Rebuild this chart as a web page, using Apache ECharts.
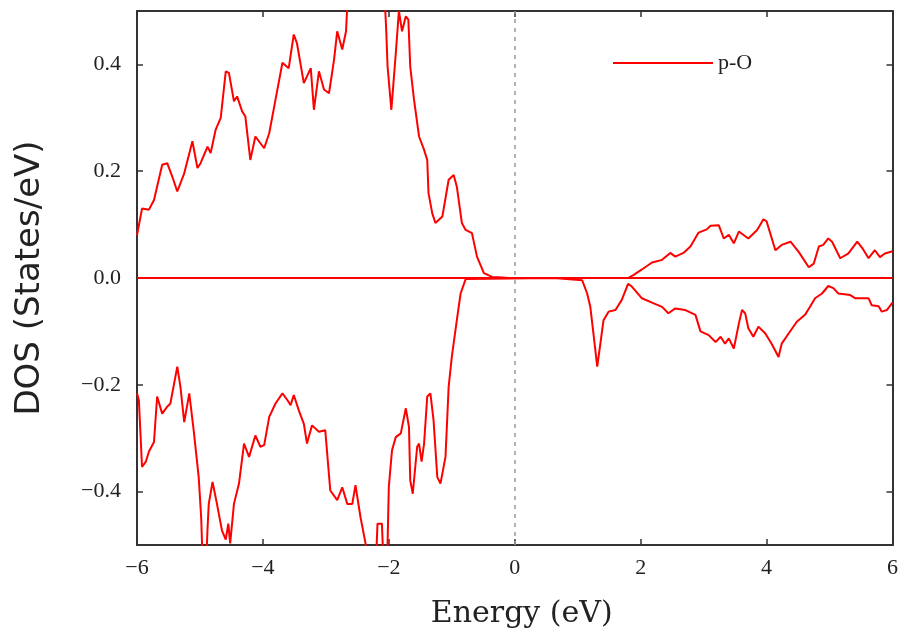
<!DOCTYPE html>
<html>
<head>
<meta charset="utf-8">
<script src="https://cdn.jsdelivr.net/npm/echarts@6/dist/echarts.min.js"></script>
<style>
  html, body { margin: 0; padding: 0; background: #fff; }
  #chart { width: 901px; height: 636px; }
</style>
</head>
<body>
<div id="chart"></div>
<script>
// Projected density of states, O p-orbitals, spin up (positive) and spin down (negative)
const upEnergy = [-6.0, -5.92, -5.81, -5.73, -5.6, -5.52, -5.44, -5.36, -5.25, -5.12, -5.04, -4.99, -4.88, -4.83, -4.75, -4.67, -4.59, -4.54, -4.46, -4.41, -4.33, -4.28, -4.2, -4.12, -3.98, -3.9, -3.8, -3.69, -3.59, -3.51, -3.46, -3.35, -3.24, -3.19, -3.11, -3.03, -2.95, -2.87, -2.82, -2.74, -2.68, -2.64, -2.5, -2.35, -2.2, -2.08, -2.04, -2.02, -1.96, -1.89, -1.84, -1.79, -1.73, -1.69, -1.66, -1.6, -1.52, -1.44, -1.39, -1.37, -1.31, -1.26, -1.15, -1.05, -0.97, -0.92, -0.84, -0.78, -0.68, -0.6, -0.49, -0.36, -0.2, -0.1, 1.8, 1.89, 2.02, 2.18, 2.34, 2.47, 2.55, 2.68, 2.79, 2.92, 3.05, 3.11, 3.24, 3.32, 3.4, 3.48, 3.56, 3.71, 3.85, 3.95, 4.0, 4.14, 4.24, 4.38, 4.51, 4.67, 4.75, 4.83, 4.9, 4.98, 5.04, 5.17, 5.3, 5.44, 5.52, 5.62, 5.72, 5.8, 5.88, 6.0];
const upDos = [0.08, 0.13, 0.128, 0.146, 0.212, 0.215, 0.19, 0.162, 0.196, 0.256, 0.206, 0.215, 0.246, 0.234, 0.278, 0.30, 0.387, 0.384, 0.331, 0.34, 0.312, 0.303, 0.221, 0.265, 0.243, 0.271, 0.334, 0.403, 0.393, 0.456, 0.44, 0.365, 0.393, 0.315, 0.387, 0.353, 0.346, 0.409, 0.462, 0.428, 0.462, 0.56, 0.68, 0.74, 0.66, 0.56, 0.46, 0.396, 0.315, 0.42, 0.5, 0.462, 0.49, 0.484, 0.396, 0.334, 0.265, 0.24, 0.221, 0.159, 0.121, 0.103, 0.115, 0.184, 0.193, 0.171, 0.103, 0.09, 0.084, 0.04, 0.009, 0.002, 0.001, 0, 0, 0.006, 0.016, 0.029, 0.034, 0.047, 0.04, 0.047, 0.059, 0.085, 0.091, 0.098, 0.099, 0.074, 0.081, 0.065, 0.087, 0.074, 0.09, 0.11, 0.106, 0.052, 0.062, 0.068, 0.049, 0.02, 0.027, 0.059, 0.062, 0.074, 0.068, 0.037, 0.046, 0.068, 0.056, 0.037, 0.052, 0.039, 0.046, 0.05];

const downEnergy = [-6.0, -5.97, -5.92, -5.86, -5.81, -5.73, -5.68, -5.6, -5.52, -5.47, -5.36, -5.31, -5.25, -5.17, -5.1, -5.02, -4.98, -4.95, -4.91, -4.88, -4.86, -4.8, -4.73, -4.65, -4.59, -4.55, -4.52, -4.46, -4.38, -4.3, -4.22, -4.12, -4.04, -3.98, -3.9, -3.8, -3.69, -3.61, -3.56, -3.51, -3.43, -3.35, -3.3, -3.22, -3.11, -3.01, -2.93, -2.82, -2.74, -2.66, -2.58, -2.53, -2.45, -2.37, -2.33, -2.22, -2.18, -2.11, -2.08, -2.03, -2.0, -1.95, -1.89, -1.81, -1.73, -1.68, -1.66, -1.62, -1.55, -1.52, -1.48, -1.44, -1.39, -1.34, -1.29, -1.23, -1.18, -1.1, -1.05, -1.0, -0.92, -0.86, -0.78, 0.62, 1.07, 1.15, 1.2, 1.25, 1.31, 1.36, 1.41, 1.49, 1.6, 1.7, 1.8, 1.86, 2.02, 2.18, 2.34, 2.44, 2.55, 2.71, 2.87, 2.95, 3.08, 3.19, 3.27, 3.34, 3.4, 3.48, 3.56, 3.61, 3.66, 3.71, 3.79, 3.87, 3.98, 4.08, 4.19, 4.24, 4.35, 4.48, 4.61, 4.69, 4.77, 4.88, 4.98, 5.06, 5.14, 5.33, 5.41, 5.62, 5.67, 5.78, 5.83, 5.91, 6.0];
const downDos = [-0.216, -0.229, -0.354, -0.344, -0.325, -0.307, -0.222, -0.254, -0.241, -0.235, -0.166, -0.204, -0.27, -0.216, -0.285, -0.373, -0.45, -0.56, -0.56, -0.47, -0.423, -0.382, -0.423, -0.473, -0.49, -0.46, -0.497, -0.423, -0.385, -0.31, -0.335, -0.295, -0.316, -0.313, -0.26, -0.235, -0.216, -0.229, -0.238, -0.219, -0.248, -0.273, -0.31, -0.276, -0.288, -0.285, -0.398, -0.416, -0.392, -0.423, -0.423, -0.388, -0.448, -0.497, -0.56, -0.58, -0.46, -0.46, -0.55, -0.55, -0.391, -0.323, -0.298, -0.291, -0.244, -0.279, -0.379, -0.404, -0.316, -0.31, -0.344, -0.31, -0.222, -0.216, -0.266, -0.373, -0.385, -0.335, -0.204, -0.148, -0.079, -0.029, -0.002, 0, -0.004, -0.029, -0.054, -0.104, -0.166, -0.123, -0.079, -0.063, -0.06, -0.041, -0.011, -0.016, -0.038, -0.046, -0.054, -0.066, -0.057, -0.06, -0.069, -0.1, -0.107, -0.12, -0.11, -0.123, -0.113, -0.132, -0.085, -0.06, -0.066, -0.094, -0.11, -0.091, -0.104, -0.123, -0.148, -0.123, -0.104, -0.082, -0.069, -0.054, -0.038, -0.029, -0.015, -0.019, -0.029, -0.032, -0.038, -0.038, -0.051, -0.053, -0.063, -0.06, -0.046];

const yTicks = [-0.4, -0.2, 0, 0.2, 0.4];
const legendName = 'p-O';

const pairs = (xs, ys) => xs.map((x, i) => [x, ys[i]]);
const minus = s => String(s).replace('-', '\u2212');

const serif = 'Liberation Serif';
const axisColor = '#333';

const chart = echarts.init(document.getElementById('chart'), null, { renderer: 'canvas' });

const baseX = {
  type: 'value', min: -6, max: 6, interval: 2,
  axisLine: { show: true, onZero: false, lineStyle: { color: axisColor, width: 2 } },
  axisTick: { show: true, inside: true, length: 6, lineStyle: { color: axisColor, width: 1.5 } },
  splitLine: { show: false }
};
const baseY = {
  type: 'value', min: -0.5, max: 0.5,
  axisLine: { show: true, onZero: false, lineStyle: { color: axisColor, width: 2 } },
  axisTick: { show: true, inside: true, length: 6, customValues: yTicks, lineStyle: { color: axisColor, width: 1.5 } },
  splitLine: { show: false }
};

chart.setOption({
  animation: false,
  backgroundColor: '#fff',
  grid: { left: 137, right: 8, top: 11, bottom: 91, containLabel: false },
  legend: {
    left: 608, top: 47,
    itemWidth: 100, itemHeight: 14,
    icon: 'path://M0,6 L100,6 L100,8 L0,8 Z',
    textStyle: { fontFamily: serif, fontSize: 22, color: '#222' },
    data: [legendName]
  },
  xAxis: [
    Object.assign({}, baseX, {
      position: 'bottom',
      name: 'Energy (eV)', nameLocation: 'middle', nameGap: 54,
      nameTextStyle: { fontFamily: 'DejaVu Serif', fontSize: 30, color: '#222', padding: [0, 0, 0, 14] },
      axisLabel: { show: true, margin: 12, fontFamily: serif, fontSize: 22, color: '#222', formatter: v => minus(v) }
    }),
    Object.assign({}, baseX, { position: 'top', axisLabel: { show: false } })
  ],
  yAxis: [
    Object.assign({}, baseY, {
      position: 'left',
      name: 'DOS (States/eV)', nameLocation: 'middle', nameGap: 90, nameRotate: 90,
      nameTextStyle: { fontFamily: 'DejaVu Sans', fontSize: 34, color: '#222' },
      axisLabel: { show: true, margin: 16, customValues: yTicks, fontFamily: serif, fontSize: 22, color: '#222', formatter: v => minus(v.toFixed(1)) }
    }),
    Object.assign({}, baseY, { position: 'right', axisLabel: { show: false } })
  ],
  series: [
    {
      name: legendName, type: 'line', symbol: 'none', clip: true,
      itemStyle: { color: '#ff0000' },
      lineStyle: { color: '#ff0000', width: 2 },
      data: pairs(upEnergy, upDos),
      markLine: {
        silent: true, symbol: 'none', label: { show: false },
        data: [
          { yAxis: 0, lineStyle: { color: '#ff0000', width: 2, type: 'solid' } },
          { xAxis: 0, lineStyle: { color: '#999', width: 1.5, type: [4, 5] } }
        ]
      }
    },
    {
      name: legendName, type: 'line', symbol: 'none', clip: true,
      itemStyle: { color: '#ff0000' },
      lineStyle: { color: '#ff0000', width: 2 },
      data: pairs(downEnergy, downDos)
    }
  ]
});
</script>
</body>
</html>
